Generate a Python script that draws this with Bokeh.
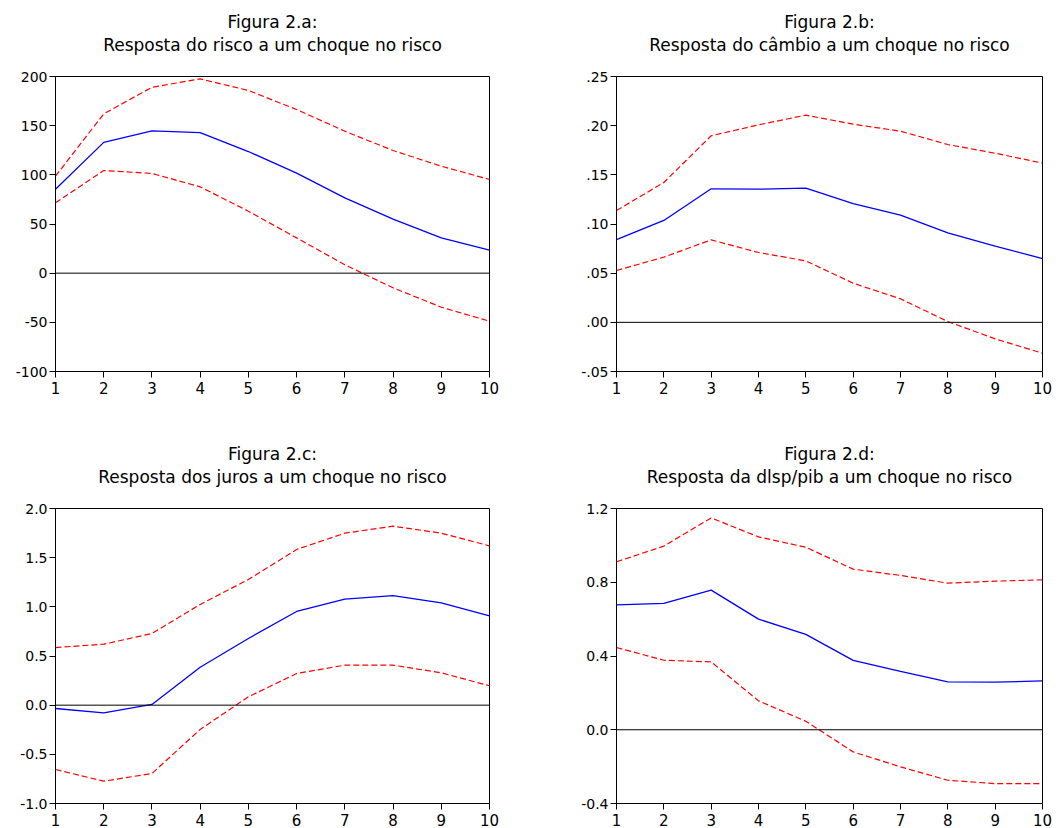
from bokeh.plotting import figure
from bokeh.layouts import gridplot
from bokeh.models import Span, Title, FixedTicker, Range1d
from bokeh.embed import file_html
from bokeh.resources import INLINE

periods = [1, 2, 3, 4, 5, 6, 7, 8, 9, 10]

# Figura 2.a
risco_mid = [85.4, 133.0, 144.7, 143.0, 123.7, 101.7, 76.6, 54.9, 35.9, 23.4]
risco_up = [98.6, 162.0, 189.0, 197.6, 185.8, 166.4, 144.4, 124.7, 108.8, 95.3]
risco_lo = [71.5, 104.4, 101.4, 87.8, 63.0, 35.9, 8.5, -14.9, -34.6, -48.8]
risco_ticks = [-100, -50, 0, 50, 100, 150, 200]
risco_labels = ["-100", "-50", "0", "50", "100", "150", "200"]

# Figura 2.b
cambio_mid = [0.0842, 0.1036, 0.1358, 0.1354, 0.1364, 0.1208, 0.109, 0.091, 0.0775, 0.0649]
cambio_up = [0.1137, 0.1422, 0.1897, 0.2008, 0.2107, 0.2015, 0.1944, 0.1808, 0.172, 0.1619]
cambio_lo = [0.0527, 0.0663, 0.0839, 0.071, 0.0625, 0.0398, 0.0239, 0.0008, -0.0168, -0.0314]
cambio_ticks = [-0.05, 0.0, 0.05, 0.10, 0.15, 0.20, 0.25]
cambio_labels = ["-.05", ".00", ".05", ".10", ".15", ".20", ".25"]

# Figura 2.c
juros_mid = [-0.034, -0.078, 0.007, 0.386, 0.678, 0.953, 1.078, 1.115, 1.041, 0.908]
juros_up = [0.586, 0.620, 0.729, 1.024, 1.278, 1.583, 1.749, 1.820, 1.749, 1.620]
juros_lo = [-0.654, -0.773, -0.695, -0.247, 0.085, 0.322, 0.407, 0.407, 0.329, 0.197]
juros_ticks = [-1.0, -0.5, 0.0, 0.5, 1.0, 1.5, 2.0]
juros_labels = ["-1.0", "-0.5", "0.0", "0.5", "1.0", "1.5", "2.0"]

# Figura 2.d
dlsp_mid = [0.6775, 0.685, 0.757, 0.600, 0.517, 0.376, 0.316, 0.260, 0.258, 0.265]
dlsp_up = [0.911, 0.996, 1.149, 1.046, 0.990, 0.871, 0.837, 0.795, 0.806, 0.813]
dlsp_lo = [0.446, 0.377, 0.368, 0.157, 0.046, -0.120, -0.201, -0.274, -0.292, -0.292]
dlsp_ticks = [-0.4, 0.0, 0.4, 0.8, 1.2]
dlsp_labels = ["-0.4", "0.0", "0.4", "0.8", "1.2"]

FONT = "DejaVu Sans"


def panel(fig_line, subtitle, mid, up, lo, ticks, labels, yr, left, right, top, bottom, fw):
    p = figure(frame_width=fw, frame_height=295, output_backend="svg",
               toolbar_location=None, x_range=Range1d(1, 10), y_range=Range1d(*yr),
               min_border_left=left, min_border_right=right,
               min_border_top=top, min_border_bottom=bottom)
    p.title = None
    p.add_layout(Title(text=subtitle, align="center", text_font=FONT,
                       text_font_size="17px", text_font_style="normal",
                       text_color="black", standoff=44), "above")
    p.add_layout(Title(text=fig_line, align="center", text_font=FONT,
                       text_font_size="17px", text_font_style="normal",
                       text_color="black", standoff=-42), "above")
    p.xgrid.visible = False
    p.ygrid.visible = False
    p.outline_line_color = "black"
    p.outline_line_width = 1
    for ax in (p.xaxis, p.yaxis):
        ax.major_tick_in = 0
        ax.major_tick_out = 6
        ax.minor_tick_line_color = None
        ax.axis_line_color = "black"
        ax.major_tick_line_color = "black"
        ax.major_label_text_font = FONT
        ax.major_label_text_color = "black"
    p.xaxis.major_label_text_font_size = "15px"
    p.yaxis.major_label_text_font_size = "14px"
    p.xaxis.major_label_standoff = 4
    p.yaxis.major_label_standoff = 2
    p.xaxis.ticker = FixedTicker(ticks=periods)
    p.yaxis.ticker = FixedTicker(ticks=ticks)
    p.yaxis.major_label_overrides = {t: l for t, l in zip(ticks, labels)}
    p.add_layout(Span(location=0, dimension="width", line_color="black", line_width=1))
    p.line(periods, up, line_color="#FF0000", line_width=1.2, line_dash="6 3")
    p.line(periods, lo, line_color="#FF0000", line_width=1.2, line_dash="6 3")
    p.line(periods, mid, line_color="#0000FF", line_width=1.3)
    return p


pa = panel("Figura 2.a:", "Resposta do risco a um choque no risco",
           risco_mid, risco_up, risco_lo, risco_ticks, risco_labels, (-100, 200),
           55, 45, 76, 42, 434)
pb = panel("Figura 2.b:", "Resposta do câmbio a um choque no risco",
           cambio_mid, cambio_up, cambio_lo, cambio_ticks, cambio_labels, (-0.05, 0.25),
           82, 18, 76, 42, 426)
pc = panel("Figura 2.c:", "Resposta dos juros a um choque no risco",
           juros_mid, juros_up, juros_lo, juros_ticks, juros_labels, (-1.0, 2.0),
           55, 45, 95, 24, 434)
pd_ = panel("Figura 2.d:", "Resposta da dlsp/pib a um choque no risco",
            dlsp_mid, dlsp_up, dlsp_lo, dlsp_ticks, dlsp_labels, (-0.4, 1.2),
            82, 18, 95, 24, 426)

grid = gridplot([[pa, pb], [pc, pd_]], toolbar_location=None)

open("out.html", "w").write(file_html(grid, INLINE))
